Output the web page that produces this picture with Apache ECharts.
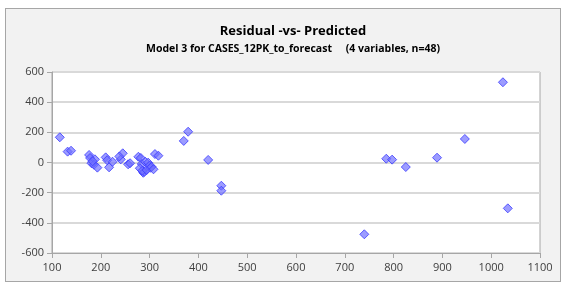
<!DOCTYPE html>
<html>
<head>
<meta charset="utf-8">
<script src="https://cdn.jsdelivr.net/npm/echarts@6/dist/echarts.min.js"></script>
<style>
  body { margin: 0; background: #fff; }
  #box {
    position: absolute; left: 5px; top: 8px;
    width: 556px; height: 274px; box-sizing: border-box;
    border: 1px solid #a6a6a6; background: #f2f2f2;
  }
  #chart { width: 554px; height: 272px; }
</style>
</head>
<body>
<div id="box"><div id="chart"></div></div>
<script>
  // predicted values (x) and residuals (y)
  var predicted = [116, 132, 139, 176, 178, 181, 188, 186, 193, 183,
                   210, 213, 217, 224, 241, 245, 238, 256, 260,
                   277, 282, 284, 280, 287, 289, 285, 291, 294, 297,
                   300, 302, 304, 308, 311, 318, 370, 379, 420, 447,
                   447, 740, 785, 797, 825, 889, 946, 1024, 1034];
  var residual = [167, 72, 78, 50, 30, -5, 21, -15, -34, 8,
                  34, 15, -32, 5, 21, 61, 40, -12, -5,
                  38, 30, -10, -38, -68, -62, -55, 5, -50, -1,
                  -20, -35, -28, -45, 56, 45, 143, 204, 17, -154,
                  -187, -476, 25, 19, -30, 32, 156, 532, -304];
  var xTicks = [100, 1100, 100];   // min, max, step
  var yTicks = [-600, 600, 200];

  var points = [];
  for (var i = 0; i < predicted.length; i++) {
    points.push([predicted[i], residual[i]]);
  }

  var myChart = echarts.init(document.getElementById('chart'));
  var option = {
    animation: false,
    title: [
      {
        text: 'Residual -vs- Predicted',
        left: 282, top: 11, textAlign: 'center',
        textStyle: { fontFamily: 'Open Sans', fontSize: 13, fontWeight: 'bold', color: '#000' }
      },
      {
        text: 'Model 3 for CASES_12PK_to_forecast     (4 variables, n=48)',
        left: 282, top: 30, textAlign: 'center',
        textStyle: { fontFamily: 'Open Sans', fontSize: 10.5, fontWeight: 'bold', color: '#000' }
      }
    ],
    grid: {
      left: 46, top: 63, width: 488, height: 181,
      show: true, backgroundColor: '#fff', borderColor: '#a6a6a6', borderWidth: 1
    },
    xAxis: {
      type: 'value',
      min: xTicks[0], max: xTicks[1], interval: xTicks[2],
      axisLine: { show: true, onZero: false, lineStyle: { color: '#a6a6a6' } },
      axisTick: { show: true, length: 5, lineStyle: { color: '#a6a6a6' } },
      axisLabel: { fontFamily: 'Open Sans', fontSize: 11, color: '#404040', margin: 9,
                   formatter: function (v) { return String(v); } },
      splitLine: { show: false }
    },
    yAxis: {
      type: 'value',
      min: yTicks[0], max: yTicks[1], interval: yTicks[2],
      axisLine: { show: true, onZero: false, lineStyle: { color: '#a6a6a6' } },
      axisTick: { show: true, length: 5, lineStyle: { color: '#a6a6a6' } },
      axisLabel: { fontFamily: 'Open Sans', fontSize: 11, color: '#404040', margin: 8,
                   formatter: function (v) { return String(v); } },
      splitLine: { show: true, lineStyle: { color: '#d9d9d9', width: 2 } }
    },
    series: [{
      type: 'scatter',
      data: points,
      symbol: 'diamond',
      symbolSize: [9, 9],
      itemStyle: {
        color: 'rgba(110,110,255,0.85)',
        borderColor: '#3b3bff',
        borderWidth: 1
      }
    }]
  };
  myChart.setOption(option);
</script>
</body>
</html>
